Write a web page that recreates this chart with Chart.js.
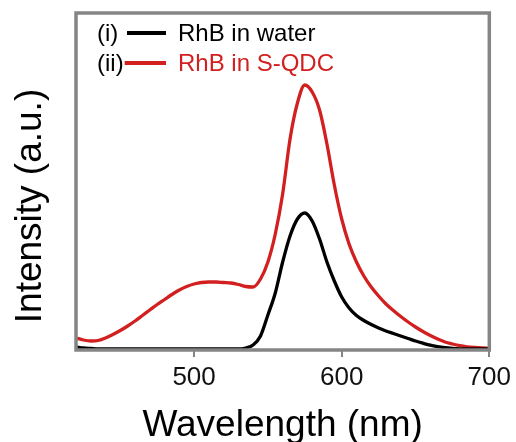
<!DOCTYPE html>
<html>
<head>
<meta charset="utf-8">
<script src="https://cdn.jsdelivr.net/npm/chart.js@4"></script>
<style>
  html, body { margin: 0; padding: 0; background: #fff; }
  #wrap { width: 516px; height: 442px; }
</style>
</head>
<body>
<div id="wrap"><canvas id="chart" width="516" height="442"></canvas></div>
<script>
// Data
const wavelengths = [420, 425, 430, 435, 440, 445, 450, 455, 460, 465, 470, 475, 480, 485, 490, 495,
  500, 505, 510, 515, 520, 525, 530, 535, 540, 545, 550, 555, 560, 565, 570, 575, 580, 585, 590, 595,
  600, 605, 610, 615, 620, 625, 630, 635, 640, 645, 650, 655, 660, 665, 670, 675, 680, 685, 690, 695, 700];
const rhbWater = [3, 2, 1.5, 1, 1, 1, 1, 1, 1, 1, 1, 1, 1, 1, 1, 1,
  1, 1, 1, 1, 1, 1, 1, 2, 5, 14, 35, 57, 88, 114, 131, 137, 129, 111, 88, 69,
  53, 42, 34.5, 29.5, 25.5, 22, 19, 16.5, 14, 11.5, 9, 6.8, 4.8, 3.4, 2.4, 1.7, 1.2, 1, 1, 1, 1];
const rhbSQDC = [12, 10, 9, 9.5, 12, 15.5, 19.5, 24, 29, 34.5, 40, 45.5, 50.5, 55.5, 60, 63.5,
  66, 67.5, 68, 68, 67.5, 67, 65.5, 63.5, 63, 71, 88, 116, 156, 211, 247, 265, 258, 240, 206, 165,
  131, 106, 88, 74, 63, 54, 46, 39.5, 33.5, 28, 23, 18.5, 14.5, 11, 8, 6, 4.3, 3.2, 2.5, 2, 1.7];
const xTicks = [500, 600, 700];
const seriesLabels = ['RhB in water', 'RhB in S-QDC'];
const seriesTags = ['(i)', '(ii)'];
const seriesColors = ['#000000', '#d21f1f'];

const FONT = "'Liberation Sans', Arial, sans-serif";
const FRAME = '#858585';

// frame, legend and y title
const decorations = {
  id: 'decorations',
  afterDatasetsDraw(chart) {
    const { ctx, chartArea: a } = chart;
    ctx.save();
    ctx.strokeStyle = FRAME;
    ctx.lineWidth = 3.5;
    ctx.strokeRect(a.left, a.top, a.right - a.left, a.bottom - a.top);

    // legend
    const rows = [34, 64];
    ctx.font = '24px ' + FONT;
    ctx.textBaseline = 'middle';
    ctx.textAlign = 'left';
    chart.data.datasets.forEach((ds, i) => {
      const y = rows[i];
      ctx.fillStyle = '#000';
      ctx.fillText(seriesTags[i], 97, y);
      const lineStart = 97 + ctx.measureText(seriesTags[i]).width + 1;
      ctx.strokeStyle = ds.borderColor;
      ctx.lineWidth = 4;
      ctx.beginPath();
      ctx.moveTo(Math.max(lineStart, i === 0 ? 127 : lineStart), y - 1);
      ctx.lineTo(166, y - 1);
      ctx.stroke();
      ctx.fillStyle = ds.borderColor;
      ctx.fillText(ds.label, 178, y);
    });

    // y axis title
    ctx.translate(31, 206);
    ctx.rotate(-Math.PI / 2);
    ctx.fillStyle = '#000';
    ctx.font = '37px ' + FONT;
    ctx.textAlign = 'center';
    ctx.fillText('Intensity (a.u.)', 0, 0);
    ctx.restore();
  }
};

const ctx = document.getElementById('chart');
new Chart(ctx, {
  type: 'line',
  data: {
    datasets: [rhbWater, rhbSQDC].map((vals, i) => ({
      label: seriesLabels[i],
      data: wavelengths.map((w, j) => ({ x: w, y: vals[j] })),
      borderColor: seriesColors[i],
      borderWidth: 3.3,
      pointRadius: 0,
      cubicInterpolationMode: 'monotone',
      fill: false
    }))
  },
  options: {
    responsive: false,
    animation: false,
    layout: { padding: { top: 13, right: 25, left: 76, bottom: 0 } },
    plugins: { legend: { display: false }, tooltip: { enabled: false } },
    scales: {
      x: {
        type: 'linear',
        min: 420,
        max: 700,
        afterBuildTicks: (scale) => { scale.ticks = xTicks.map(v => ({ value: v })); },
        afterFit: (scale) => { scale.height = 92; },
        grid: { drawOnChartArea: false, drawTicks: true, tickLength: 7, color: FRAME, lineWidth: 2 },
        border: { display: false },
        ticks: { color: '#111', padding: 5, font: { family: FONT, size: 26 } },
        title: {
          display: true,
          text: 'Wavelength (nm)',
          color: '#000',
          font: { family: FONT, size: 37, lineHeight: 1 },
          padding: { top: 0, bottom: -2 }
        }
      },
      y: {
        display: false,
        min: 0,
        max: 337
      }
    }
  },
  plugins: [decorations]
});
</script>
</body>
</html>
